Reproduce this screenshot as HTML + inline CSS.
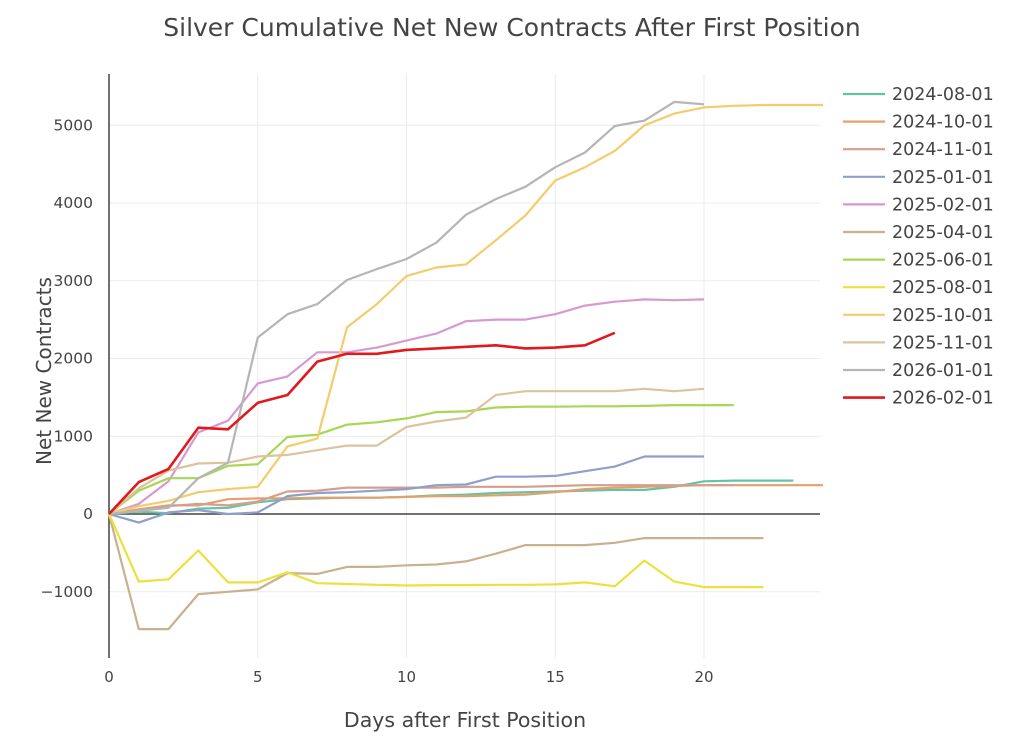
<!DOCTYPE html>
<html><head><meta charset="utf-8"><style>
body{margin:0;background:#fff;font-family:"DejaVu Sans",sans-serif;}
svg text{font-family:"DejaVu Sans",sans-serif;fill:#444;}
</style></head><body>
<svg id="chart" width="1024" height="732">
<text x="512" y="36" text-anchor="middle" font-size="25">Silver Cumulative Net New Contracts After First Position</text>
<g id="grid"></g><g id="axes"></g><g id="lines"></g><g id="legend"></g>
<text x="465" y="727" text-anchor="middle" font-size="20.5">Days after First Position</text>
<text transform="translate(51,371) rotate(-90)" text-anchor="middle" font-size="20">Net New Contracts</text>
</svg>
<script>
const seriesNames=["2024-08-01","2024-10-01","2024-11-01","2025-01-01","2025-02-01","2025-04-01","2025-06-01","2025-08-01","2025-10-01","2025-11-01","2026-01-01","2026-02-01"];
const colors=["#66c2a5","#e3a06f","#d49f8c","#8e9fcb","#d69ad0","#c9b08f","#a8d656","#ece03d","#f3cd6b","#dcc39d","#b5b5b5","#e01a1c"];
const s2024_08=[0,30,10,70,80,150,190,200,210,210,220,240,250,270,280,290,300,310,310,350,420,430,430,430];
const s2024_10=[0,60,110,110,190,200,200,210,210,210,220,230,230,240,250,280,320,340,350,360,370,370,370,370,370];
const s2024_11=[0,50,100,130,110,160,290,300,340,340,340,340,350,350,350,360,370,370,370,370,370,370];
const s2025_01=[0,-110,20,50,0,20,230,270,280,300,320,370,380,480,480,490,550,610,740,740,740];
const s2025_02=[0,130,420,1050,1200,1680,1770,2080,2080,2140,2230,2320,2480,2500,2500,2570,2680,2730,2760,2750,2760];
const s2025_04=[0,-1480,-1480,-1030,-1000,-970,-760,-770,-680,-680,-660,-650,-610,-510,-400,-400,-400,-370,-310,-310,-310,-310,-310];
const s2025_06=[0,300,460,460,620,640,990,1020,1150,1180,1230,1310,1320,1370,1380,1380,1385,1385,1390,1400,1400,1400];
const s2025_08=[0,-870,-840,-470,-880,-880,-750,-890,-900,-910,-920,-915,-915,-910,-910,-905,-880,-930,-600,-870,-940,-940,-940];
const s2025_10=[0,100,170,280,320,350,870,970,2400,2700,3060,3170,3210,3520,3840,4290,4460,4670,5000,5150,5230,5250,5260,5260,5260];
const s2025_11=[0,330,560,650,660,740,760,820,880,880,1120,1190,1240,1530,1580,1580,1580,1580,1610,1580,1610];
const s2026_01=[0,40,80,460,660,2270,2570,2700,3010,3150,3280,3490,3850,4050,4210,4460,4650,4990,5060,5300,5270];
const s2026_02=[0,410,580,1110,1090,1430,1530,1960,2060,2060,2110,2130,2150,2170,2130,2140,2170,2330];
const allSeries=[s2024_08,s2024_10,s2024_11,s2025_01,s2025_02,s2025_04,s2025_06,s2025_08,s2025_10,s2025_11,s2026_01,s2026_02];
const xTicks=[0,5,10,15,20];
const yTicks=[-1000,0,1000,2000,3000,4000,5000];
const NS="http://www.w3.org/2000/svg";
const X0=109,XS=29.75,Y0=514,YS=0.07775,TOP=74,BOT=658,RIGHT=820;
const xp=v=>X0+v*XS, yp=v=>Y0-v*YS;
function mk(p,t,a){const e=document.createElementNS(NS,t);for(const k in a)e.setAttribute(k,a[k]);p.appendChild(e);return e;}
const grid=document.getElementById('grid'),axes=document.getElementById('axes'),lines=document.getElementById('lines'),legend=document.getElementById('legend');
xTicks.forEach(t=>{
 const g=mk(grid,'line',{x1:xp(t),x2:xp(t),y1:TOP,y2:BOT,stroke:'#ebebeb','stroke-width':1});
 
 
 const tx=mk(axes,'text',{x:xp(t),y:682,'text-anchor':'middle','font-size':15});
 tx.textContent=t;
 
 
});
yTicks.forEach(t=>{
 const g=mk(grid,'line',{x1:X0,x2:RIGHT,y1:yp(t),y2:yp(t),stroke:t===0?'#444':'#ebebeb','stroke-width':t===0?1.5:1});
 
 
 const tx=mk(axes,'text',{x:93,y:yp(t)+5,'text-anchor':'end','font-size':15.5});
 tx.textContent=t<0?'\u2212'+Math.abs(t):t;
 
 
});
const ax=mk(axes,'line',{x1:X0,x2:X0,y1:TOP,y2:BOT,stroke:'#444','stroke-width':1.5});


allSeries.forEach((s,i)=>{
 const pts=s.map((v,j)=>xp(j).toFixed(1)+','+yp(v).toFixed(1)).join(' ');
 const pl=mk(lines,'polyline',{points:pts,fill:'none',stroke:colors[i],'stroke-width':i===11?2.6:2.2,'stroke-linejoin':'round'});
 
 
 const ly=94+i*27.6;
 const lg=mk(legend,'g',{});
 
 
 mk(lg,'line',{x1:843,x2:885,y1:ly,y2:ly,stroke:colors[i],'stroke-width':i===11?2.6:2.2});
 const t=mk(lg,'text',{x:892,y:ly+6,'font-size':17.5});
 t.textContent=seriesNames[i];
});
</script>
</body></html>
